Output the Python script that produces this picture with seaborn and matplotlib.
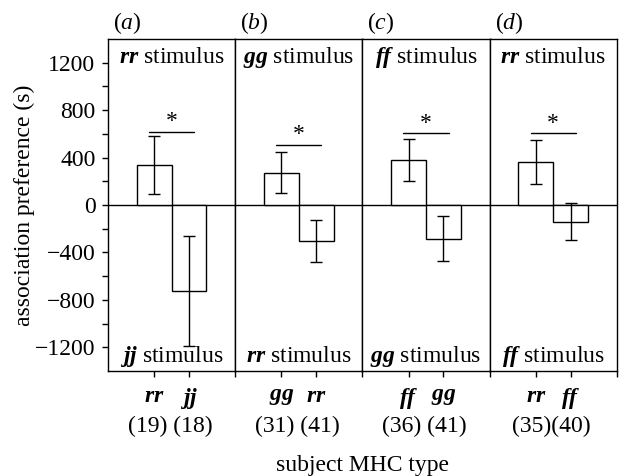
import matplotlib
matplotlib.use('Agg')
import matplotlib.pyplot as plt
import matplotlib.transforms as mtrans
import seaborn as sns
import pandas as pd

# data
panel_letters = ['a', 'b', 'c', 'd']
stimulus_top = ['rr', 'gg', 'ff', 'rr']
stimulus_bottom = ['jj', 'rr', 'gg', 'ff']
subject_types = [['rr', 'jj'], ['gg', 'rr'], ['ff', 'gg'], ['rr', 'ff']]
sample_labels = ['(19) (18)', '(31) (41)', '(36) (41)', '(35)(40)']
mean_pref = [[335, -725], [272, -305], [380, -285], [360, -140]]
sem_pref = [[245, 460], [174, 178], [175, 190], [185, 157]]
sig_height = [620, 510, 605, 605]

sns.set_style('ticks')
plt.rcParams['font.family'] = ['Liberation Serif', 'DejaVu Serif']
plt.rcParams['mathtext.fontset'] = 'custom'
plt.rcParams['mathtext.rm'] = 'Liberation Serif'
plt.rcParams['mathtext.it'] = 'Liberation Serif:italic'
plt.rcParams['mathtext.bf'] = 'Liberation Serif:bold'
plt.rcParams['mathtext.bfit'] = 'Liberation Serif:italic:bold'
plt.rcParams['font.size'] = 17
plt.rcParams['axes.linewidth'] = 1.0
for k in ['text.color', 'axes.labelcolor', 'xtick.color', 'ytick.color', 'axes.edgecolor']:
    plt.rcParams[k] = 'black'

fig, axes = plt.subplots(1, 4, figsize=(6.23, 4.76), dpi=100)
fig.subplots_adjust(left=0.1734, right=0.990, top=0.918, bottom=0.2206, wspace=0)

xlo, xhi = -1.33, 2.33
for i, ax in enumerate(axes):
    df = pd.DataFrame({'type': subject_types[i], 'pref': mean_pref[i]})
    sns.barplot(data=df, x='type', y='pref', ax=ax, width=1.0, color='white',
                saturation=1, edgecolor='black', linewidth=1.0, errorbar=None)
    ax.errorbar([0, 1], mean_pref[i], yerr=sem_pref[i], fmt='none', ecolor='black',
                elinewidth=1.0, capsize=4, capthick=1.0, zorder=5)
    ax.axhline(0, color='black', lw=1.0, zorder=0)

    # significance bar
    h = sig_height[i]
    ax.plot([-0.15, 1.15], [h, h], color='black', lw=1.0)
    ax.text(0.5, h - 5, '*', ha='center', va='bottom', fontsize=17)

    ax.set_xlim(xlo, xhi)
    ax.set_ylim(-1400, 1400)
    for s in ax.spines.values():
        s.set_visible(True)
        s.set_color('black')

    ax.set_xticks([0, 1])
    ax.set_xticklabels([rf'$\mathbfit{{{t}}}$' for t in subject_types[i]])
    ax.set_xticks([xhi], minor=True)
    ax.tick_params(axis='x', which='both', direction='out', length=4, width=1.0, pad=7)
    ax.set_xlabel('')
    ax.set_ylabel('')

    # sample sizes under the genotype labels
    trans = mtrans.blended_transform_factory(ax.transData, ax.transAxes)
    ax.text(0.46, -0.168, sample_labels[i], transform=trans, ha='center', va='center')

    ax.text(0.5, 0.927, rf'$\mathbfit{{{stimulus_top[i]}}}$ stimulus',
            transform=ax.transAxes, ha='center', va='baseline')
    ax.text(0.5, 0.028, rf'$\mathbfit{{{stimulus_bottom[i]}}}$ stimulus',
            transform=ax.transAxes, ha='center', va='baseline')
    ax.text(0.04, 1.01, rf'($\mathit{{{panel_letters[i]}}}$)',
            transform=ax.transAxes, ha='left', va='bottom')

    if i == 0:
        ax.set_yticks(range(-1200, 1201, 400))
        ax.set_yticks([-1000, -600, -200, 200, 600, 1000], minor=True)
        ax.tick_params(axis='y', which='both', direction='out', length=4, width=1.0, pad=5)
        ax.set_ylabel('association preference (s)', labelpad=0)
    else:
        ax.tick_params(axis='y', which='both', left=False, labelleft=False)

fig.text((0.1734 + 0.990) / 2, 1 - 465 / 476, 'subject MHC type', ha='center', va='center')

fig.savefig('out.png', dpi=100)
